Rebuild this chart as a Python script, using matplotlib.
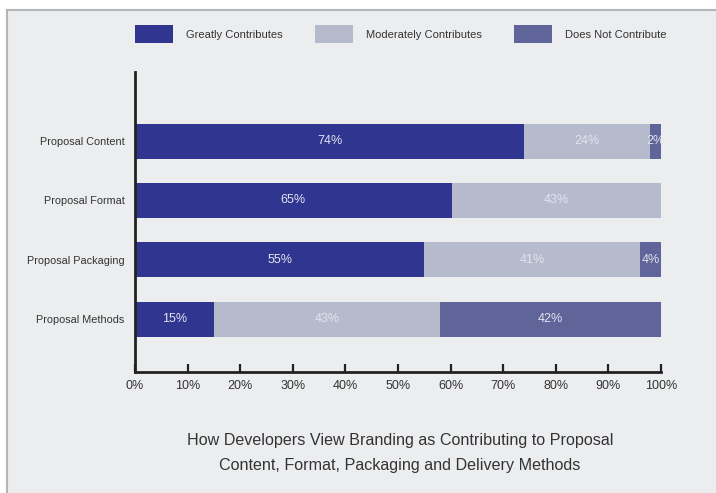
import numpy as np
import matplotlib.pyplot as plt
from matplotlib.patches import Rectangle, Patch
from matplotlib.lines import Line2D

# survey answers per item (percent as reported)
items = ["Proposal Methods", "Proposal Packaging", "Proposal Format", "Proposal Content"]
greatly = [15, 55, 65, 74]
moderately = [43, 41, 43, 24]
not_contrib = [42, 4, 0, 2]

series_names = ["Greatly Contributes", "Moderately Contributes", "Does Not Contribute"]
colors = ["#303590", "#b5bacd", "#606599"]
xticks = [0, 10, 20, 30, 40, 50, 60, 70, 80, 90, 100]

title = ("How Developers View Branding as Contributing to Proposal\n"
         "Content, Format, Packaging and Delivery Methods")

plt.rcParams['font.family'] = ['Liberation Sans', 'DejaVu Sans']

W, H = 716, 493
fig = plt.figure(figsize=(W / 100, H / 100), dpi=100)
fig.patch.set_facecolor("white")

# grey panel with a thin border on top and left
fig.patches.append(Rectangle((7 / W, 0), 1 - 7 / W, 1 - 10 / H, transform=fig.transFigure,
                             facecolor="#ecedef", edgecolor="none", zorder=-2))
fig.lines.append(Line2D([7 / W, 7 / W], [0, 1 - 10 / H], transform=fig.transFigure,
                        color="#b4b5b8", lw=1.5, zorder=-1))
fig.lines.append(Line2D([7 / W, 1], [1 - 10 / H, 1 - 10 / H], transform=fig.transFigure,
                        color="#b4b5b8", lw=1.5, zorder=-1))

ax = fig.add_axes([135 / W, (H - 372) / H, 526 / W, 300 / H])
ax.set_facecolor("none")

data = np.array([greatly, moderately, not_contrib], dtype=float)
share = data / data.sum(axis=0) * 100  # 100% stacked
ypos = np.arange(len(items))
left = np.zeros(len(items))
for k in range(3):
    ax.barh(ypos, share[k], left=left, height=0.59, color=colors[k], zorder=2)
    for i in range(len(items)):
        if data[k, i] > 0:
            ax.text(left[i] + share[k, i] / 2, ypos[i], "%d%%" % data[k, i],
                    ha="center", va="center", color="#e2e4ee", fontsize=9)
    left += share[k]

ax.set_xlim(0, 100)
ax.set_ylim(-0.893, 3 + 1.163)
ax.set_xticks(xticks)
ax.set_xticklabels(["%d%%" % t for t in xticks], fontsize=9, color="#333333")
ax.set_yticks(ypos)
ax.set_yticklabels(items, fontsize=7.8, color="#333333")
ax.tick_params(axis="x", direction="in", length=6, width=1.6, pad=6, color="#222222")
ax.tick_params(axis="y", length=0, pad=7.5)
for s in ["top", "right"]:
    ax.spines[s].set_visible(False)
for s in ["left", "bottom"]:
    ax.spines[s].set_linewidth(2)
    ax.spines[s].set_color("#222222")

handles = [Patch(facecolor=c, edgecolor="none") for c in colors]
fig.legend(handles, series_names, loc="center left", bbox_to_anchor=(125 / W, 1 - 34 / H),
           ncol=3, frameon=False, fontsize=8, handlelength=3.4, handleheight=2.1,
           handletextpad=1.2, columnspacing=2.9, labelcolor="#333333")

fig.text(400 / W, 1 - 453 / H, title, ha="center", va="center", fontsize=11.6,
         color="#333333", linespacing=1.8)

fig.savefig("out.png", dpi=100)
